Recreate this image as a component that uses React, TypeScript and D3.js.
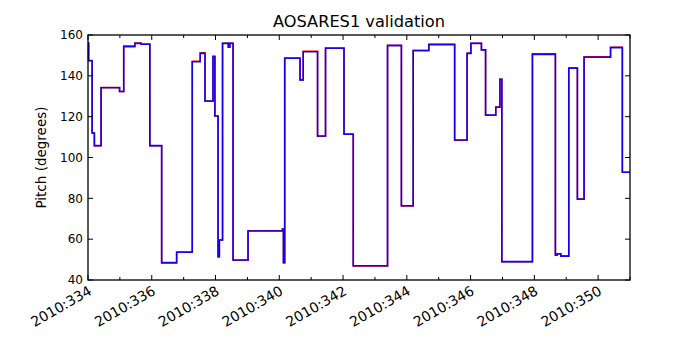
import React, { useEffect, useRef } from 'react';
import * as d3 from 'd3';

// step start times (fractional day of year 2010) and pitch values
const stepDays = [
  334.0, 334.02, 334.13, 334.2, 334.41, 334.99, 335.12, 335.47, 335.66, 335.94,
  336.31, 336.78, 337.27, 337.52, 337.67, 337.92, 337.98, 338.08, 338.12, 338.22,
  338.4, 338.45, 338.55, 339.02, 340.1, 340.13, 340.17, 340.65, 340.75, 341.2,
  341.45, 342.03, 342.32, 343.395, 343.83, 344.2, 344.69, 345.5, 345.89, 346.01,
  346.34, 346.47, 346.79, 346.92, 346.98, 347.94, 348.66, 348.71, 348.83, 349.08,
  349.35, 349.56, 350.39, 350.76, 351.0,
];
const blueValues = [
  156, 147.4, 112, 105.8, 134.2, 132.3, 154.3, 155.9, 155.5, 105.8,
  48.5, 53.6, 146.9, 151, 127.7, 149.4, 120.3, 51.4, 59.6, 155.9,
  154, 155.9, 49.8, 64, 65, 48.5, 148.6, 138, 151.8, 110.5,
  153.5, 111.4, 47, 154.8, 76.4, 152.3, 155.3, 108.6, 151, 155.9,
  152.7, 120.8, 124.6, 138.3, 49, 150.5, 52.1, 52.7, 51.7, 143.7,
  79.7, 149.1, 153.8, 92.8, 92.8,
];
const redValues = [
  156, 147.5, 112, 105.8, 134.3, 132.3, 154.6, 156.1, 155.6, 105.7,
  48.3, 53.7, 147.1, 151.3, 127.6, 149.6, 120.3, 51.4, 59.6, 156.0,
  154.1, 156.0, 49.7, 64.1, 65, 48.5, 148.7, 138, 152.0, 110.4,
  153.6, 111.5, 46.9, 155.0, 76.3, 152.5, 155.5, 108.5, 151.1, 156.0,
  152.8, 120.7, 124.7, 138.3, 49, 150.8, 52.2, 52.8, 51.8, 144.0,
  79.6, 149.4, 154.0, 92.8, 92.8,
];
const majorTicks = [334, 336, 338, 340, 342, 344, 346, 348, 350];
const minorTicks = d3.range(335, 352, 2);
const yTicks = [40, 60, 80, 100, 120, 140, 160];

export default function App() {
  const ref = useRef<SVGSVGElement>(null);

  useEffect(() => {
    const width = 700;
    const height = 350;
    const margin = { top: 35, right: 70, bottom: 70, left: 88 };
    const w = width - margin.left - margin.right;
    const h = height - margin.top - margin.bottom;

    const svg = d3.select(ref.current);
    svg.selectAll('*').remove();
    svg.append('rect').attr('width', width).attr('height', height).attr('fill', 'white');

    const x = d3.scaleLinear().domain([334, 351]).range([0, w]);
    const y = d3.scaleLinear().domain([40, 160]).range([h, 0]);

    const g = svg.append('g').attr('transform', `translate(${margin.left},${margin.top})`);

    const makeLine = (vals: number[]) =>
      d3.line<number>()
        .x((_, i) => x(stepDays[i]))
        .y(d => y(d))
        .curve(d3.curveStepAfter)(vals);

    g.append('path')
      .attr('d', makeLine(redValues))
      .attr('fill', 'none')
      .attr('stroke', '#ff0000')
      .attr('stroke-width', 1.5);

    g.append('path')
      .attr('d', makeLine(blueValues))
      .attr('fill', 'none')
      .attr('stroke', '#0000ff')
      .attr('stroke-opacity', 0.92)
      .attr('stroke-width', 1.6);

    // inward ticks on all four sides
    const tickColor = 'black';
    majorTicks.forEach(t => {
      g.append('line').attr('x1', x(t)).attr('x2', x(t)).attr('y1', h).attr('y2', h - 5).attr('stroke', tickColor);
      g.append('line').attr('x1', x(t)).attr('x2', x(t)).attr('y1', 0).attr('y2', 5).attr('stroke', tickColor);
    });
    minorTicks.forEach(t => {
      g.append('line').attr('x1', x(t)).attr('x2', x(t)).attr('y1', h).attr('y2', h - 3).attr('stroke', tickColor);
      g.append('line').attr('x1', x(t)).attr('x2', x(t)).attr('y1', 0).attr('y2', 3).attr('stroke', tickColor);
    });
    yTicks.forEach(t => {
      g.append('line').attr('x1', 0).attr('x2', 5).attr('y1', y(t)).attr('y2', y(t)).attr('stroke', tickColor);
      g.append('line').attr('x1', w).attr('x2', w - 5).attr('y1', y(t)).attr('y2', y(t)).attr('stroke', tickColor);
    });

    g.append('rect')
      .attr('width', w)
      .attr('height', h)
      .attr('fill', 'none')
      .attr('stroke', 'black')
      .attr('stroke-width', 1.3);

    const font = 'DejaVu Sans, sans-serif';

    g.selectAll('text.ytick')
      .data(yTicks)
      .enter()
      .append('text')
      .attr('class', 'ytick')
      .attr('x', -5)
      .attr('y', d => y(d))
      .attr('dy', '0.36em')
      .attr('text-anchor', 'end')
      .style('font-family', font)
      .style('font-size', '12px')
      .text(d => d);

    g.selectAll('text.xtick')
      .data(majorTicks)
      .enter()
      .append('text')
      .attr('class', 'xtick')
      .attr('transform', d => `translate(${x(d) - 1},${h + 4}) rotate(-30)`)
      .attr('dy', '0.8em')
      .attr('text-anchor', 'end')
      .style('font-family', font)
      .style('font-size', '14px')
      .text(d => `2010:${d}`);

    g.append('text')
      .attr('transform', `translate(${-42},${h / 2}) rotate(-90)`)
      .attr('text-anchor', 'middle')
      .style('font-family', font)
      .style('font-size', '13.5px')
      .text('Pitch (degrees)');

    g.append('text')
      .attr('x', w / 2)
      .attr('y', -8)
      .attr('text-anchor', 'middle')
      .style('font-family', font)
      .style('font-size', '16.2px')
      .text('AOSARES1 validation');
  }, []);

  return <svg ref={ref} width={700} height={350} style={{ display: 'block', margin: '-8px' }} />;
}
